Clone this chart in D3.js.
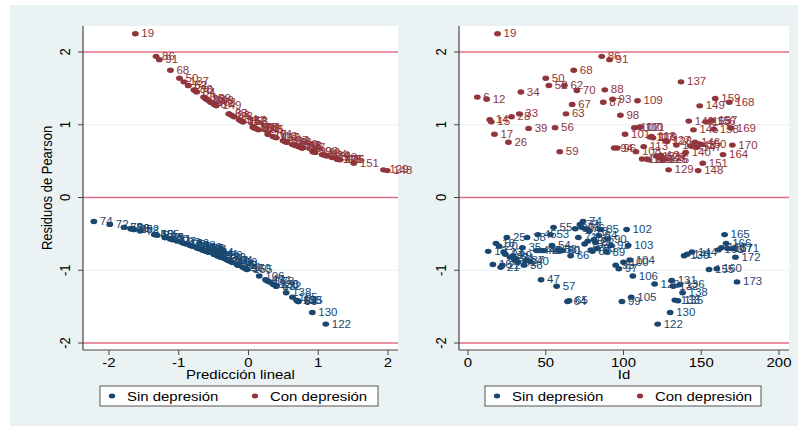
<!DOCTYPE html>
<html><head><meta charset="utf-8">
<script src="https://cdn.jsdelivr.net/npm/d3@7"></script>
<style>
body{margin:0;background:#fff}
text{font-family:"Liberation Sans",Arial,sans-serif}
</style>
</head><body>
<svg id="chart" width="805" height="426"></svg>
<script>
// ---- data ----
const sinId   = [13,16,18,20,21,22,23,24,25,27,29,30,31,32,35,36,37,38,40,44,45,46,47,48,49,53,54,55,57,58,60,61,64,65,66,69,71,72,73,74,75,76,77,78,79,80,81,82,83,84,85,89,90,92,95,97,99,100,102,103,104,105,106,120,122,130,131,132,133,135,136,138,139,141,144,155,160,161,163,165,166,167,171,172,173];
const sinRes  = [-0.74,-0.92,-0.63,-0.67,-0.96,-0.93,-0.75,-0.78,-0.55,-0.82,-0.80,-0.86,-0.84,-0.89,-0.69,-0.93,-0.87,-0.55,-0.88,-0.73,-0.51,-0.73,-1.13,-0.73,-0.73,-0.51,-0.66,-0.41,-1.22,-0.72,-0.73,-0.73,-1.43,-1.42,-0.80,-0.43,-0.55,-0.37,-0.41,-0.33,-0.64,-0.43,-0.60,-0.46,-0.72,-0.74,-0.58,-0.62,-0.70,-0.52,-0.44,-0.75,-0.57,-0.66,-0.93,-0.98,-1.43,-0.89,-0.44,-0.66,-0.86,-1.37,-1.08,-1.19,-1.74,-1.58,-1.14,-1.22,-1.41,-1.42,-1.20,-1.31,-0.80,-0.78,-0.75,-0.99,-0.98,-0.72,-0.69,-0.51,-0.63,-0.70,-0.70,-0.82,-1.16];
const sinPred = [-0.602,-0.167,-0.924,-0.801,-0.082,-0.145,-0.575,-0.497,-1.196,-0.397,-0.446,-0.302,-0.349,-0.233,-0.742,-0.145,-0.279,-1.196,-0.256,-0.629,-1.347,-0.629,0.244,-0.629,-0.629,-1.347,-0.831,-1.783,0.398,-0.657,-0.629,-0.629,0.715,0.701,-0.446,-1.688,-1.196,-1.989,-1.783,-2.217,-0.893,-1.688,-1.022,-1.553,-0.657,-0.602,-1.089,-0.956,-0.713,-1.308,-1.642,-0.575,-1.124,-0.831,-0.145,-0.040,0.715,-0.233,-1.642,-0.831,-0.302,0.630,0.154,0.348,1.108,0.915,0.262,0.398,0.687,0.701,0.365,0.540,-0.446,-0.497,-0.575,-0.020,-0.040,-0.657,-0.742,-1.347,-0.924,-0.713,-0.713,-0.397,0.297];

const conId   = [6,12,14,15,17,19,26,28,33,34,39,50,52,56,59,62,63,67,68,70,86,87,88,91,93,94,96,98,101,107,108,109,110,111,112,113,115,116,117,118,119,121,123,124,125,126,127,128,129,134,137,140,142,143,145,146,147,148,149,150,151,153,156,157,158,159,164,168,169,170];
const conRes  = [1.38,1.35,1.07,1.04,0.87,2.25,0.76,1.11,1.15,1.45,0.95,1.64,1.54,0.96,0.63,1.54,1.15,1.28,1.75,1.47,1.94,1.31,1.48,1.895,1.35,0.68,0.68,1.13,0.87,0.96,0.63,1.33,0.965,0.97,0.53,0.70,0.53,0.52,0.83,0.84,0.82,0.57,0.55,0.58,0.52,0.53,0.78,0.77,0.38,0.72,1.59,0.62,1.05,0.71,0.93,0.76,0.69,0.37,1.26,0.73,0.47,1.04,1.05,1.055,0.94,1.36,0.59,1.31,0.955,0.72];
const conPred = [-0.644,-0.600,-0.135,-0.078,0.279,-1.622,0.549,-0.209,-0.280,-0.743,0.103,-0.989,-0.864,0.082,0.924,-0.864,-0.280,-0.494,-1.119,-0.771,-1.325,-0.540,-0.784,-1.278,-0.600,0.771,0.771,-0.244,0.279,0.082,0.924,-0.570,0.071,0.061,1.270,0.713,1.270,1.308,0.373,0.349,0.397,1.124,1.196,1.089,1.308,1.270,0.497,0.523,1.935,0.657,-0.927,0.956,-0.098,0.685,0.145,0.549,0.742,1.989,-0.462,0.629,1.510,-0.078,-0.098,-0.107,0.124,-0.615,1.055,-0.540,0.092,0.657];

const yTicks = [-2,-1,0,1,2];
const xTicksLeft = [-2,-1,0,1,2];
const xTicksRight = [0,50,100,150,200];
const refLines = [-2,0,2];
const gridLines = [-1,1];
const seriesNames = ["Sin depresión","Con depresión"];
const yTitle = "Residuos de Pearson";
const xTitleLeft = "Predicción lineal";
const xTitleRight = "Id";

// ---- styling ----
const BG = "#EAF2F3", NAVY = "#1A476F", MAROON = "#90353B", REF = "#DE6F85", AXIS = "#444";
const SX = 1.15; // horizontal stretch of the original picture

const svg = d3.select("#chart");
svg.append("rect").attr("x",10).attr("y",5).attr("width",788).attr("height",421).attr("fill",BG);

function txt(g, x, yy, s, o={}) {
  const rot = o.rot ? " rotate(-90)" : "";
  return g.append("text")
    .attr("transform", `translate(${x},${yy}) scale(${SX},1)${rot}`)
    .attr("text-anchor", o.anchor || "start")
    .attr("font-size", o.size || 13)
    .attr("fill", o.fill || "#000")
    .text(s);
}

const plotTop = 26, plotBottom = 350;
const y = d3.scaleLinear().domain([-2,2]).range([343,52]);

const panels = [
  {left:83, right:398, x:d3.scaleLinear().domain([-2,2]).range([109,388]), ticks:xTicksLeft, title:xTitleLeft, xs:[sinPred,conPred], legX:100, legW:278},
  {left:459, right:789, x:d3.scaleLinear().domain([0,200]).range([468,779]), ticks:xTicksRight, title:xTitleRight, xs:[sinId,conId], legX:485, legW:276}
];

const series = [
  {res:sinRes, id:sinId, color:NAVY, label:seriesNames[0]},
  {res:conRes, id:conId, color:MAROON, label:seriesNames[1]}
];

panels.forEach((p, pi) => {
  const g = svg.append("g");
  g.append("rect").attr("x",p.left).attr("y",plotTop).attr("width",p.right-p.left).attr("height",plotBottom-plotTop).attr("fill","#fff");
  g.selectAll(".grid").data(gridLines).enter().append("line")
    .attr("x1",p.left).attr("x2",p.right).attr("y1",d=>y(d)).attr("y2",d=>y(d))
    .attr("stroke",BG).attr("stroke-width",1);
  g.selectAll(".ref").data(refLines).enter().append("line")
    .attr("x1",p.left).attr("x2",p.right).attr("y1",d=>y(d)).attr("y2",d=>y(d))
    .attr("stroke",REF).attr("stroke-width",1.3);
  g.append("line").attr("x1",p.left).attr("x2",p.left).attr("y1",plotTop).attr("y2",plotBottom).attr("stroke",AXIS).attr("stroke-width",1.2);
  yTicks.forEach(t => {
    g.append("line").attr("x1",p.left-5).attr("x2",p.left).attr("y1",y(t)).attr("y2",y(t)).attr("stroke",AXIS);
    txt(g, p.left-13.5, y(t), String(t), {anchor:"middle", rot:true, size:13});
  });
  g.append("line").attr("x1",p.left).attr("x2",p.right).attr("y1",plotBottom).attr("y2",plotBottom).attr("stroke",AXIS).attr("stroke-width",1.2);
  p.ticks.forEach(t => {
    g.append("line").attr("x1",p.x(t)).attr("x2",p.x(t)).attr("y1",plotBottom).attr("y2",plotBottom+5).attr("stroke",AXIS);
    txt(g, p.x(t), 367, String(t), {anchor:"middle", size:13});
  });
  txt(g, (p.left+p.right)/2, 379, p.title, {anchor:"middle", size:13});
  if (pi === 0) txt(g, 51.5, (plotTop+plotBottom)/2, yTitle, {anchor:"middle", rot:true, size:13});

  series.forEach((s, si) => {
    const xv = p.xs[si];
    s.res.forEach((r, i) => {
      const cx = p.x(xv[i]), cy = y(r);
      txt(g, cx+6, cy+3.6, String(s.id[i]), {size:10, fill:s.color});
      g.append("ellipse").attr("cx",cx).attr("cy",cy).attr("rx",3.4).attr("ry",2.7).attr("fill",s.color);
    });
  });

  const lg = svg.append("g");
  lg.append("rect").attr("x",p.legX).attr("y",386).attr("width",p.legW).attr("height",20)
    .attr("fill","#fff").attr("stroke","#555").attr("stroke-width",1);
  const offs = [[12,27],[155,170]];
  series.forEach((s, si) => {
    lg.append("ellipse").attr("cx",p.legX+offs[si][0]).attr("cy",396).attr("rx",3.2).attr("ry",2.5).attr("fill",s.color);
    txt(lg, p.legX+offs[si][1], 400.5, s.label, {size:13});
  });
});
</script>
</body></html>
